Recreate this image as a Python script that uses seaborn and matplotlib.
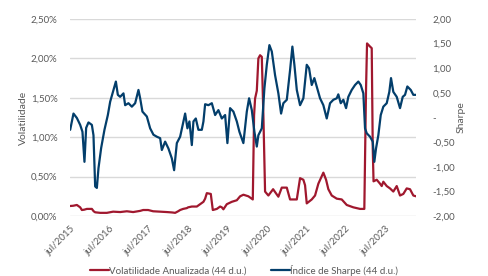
import numpy as np
import pandas as pd
import matplotlib
matplotlib.use("Agg")
import matplotlib.pyplot as plt
from matplotlib.ticker import FixedLocator, FuncFormatter
import seaborn as sns

# ---- data (decimal years) ----
sharpe_t = [2015.500, 2015.584, 2015.670, 2015.754, 2015.812, 2015.863, 2015.906, 2015.965,
            2016.051, 2016.092, 2016.135, 2016.178, 2016.219, 2016.287, 2016.371, 2016.457,
            2016.516, 2016.600, 2016.661, 2016.711, 2016.770, 2016.854, 2016.897, 2016.981,
            2017.067, 2017.151, 2017.235, 2017.278, 2017.336, 2017.448, 2017.532, 2017.616,
            2017.702, 2017.786, 2017.829, 2017.913, 2017.997, 2018.083, 2018.141, 2018.210,
            2018.294, 2018.378, 2018.421, 2018.479, 2018.530, 2018.591, 2018.632, 2018.692,
            2018.758, 2018.845, 2018.886, 2018.929, 2019.012, 2019.099, 2019.183, 2019.266,
            2019.353, 2019.437, 2019.495, 2019.563, 2019.647, 2019.734, 2019.800, 2019.901,
            2019.988, 2020.046, 2020.115, 2020.181, 2020.242, 2020.282, 2020.369, 2020.435,
            2020.496, 2020.562, 2020.623, 2020.706, 2020.790, 2020.859, 2020.917, 2021.004,
            2021.087, 2021.146, 2021.197, 2021.258, 2021.341, 2021.425, 2021.511, 2021.570,
            2021.638, 2021.704, 2021.765, 2021.849, 2021.933, 2022.019, 2022.103, 2022.187,
            2022.273, 2022.313, 2022.375, 2022.441, 2022.510, 2022.568, 2022.654, 2022.738,
            2022.822, 2022.883, 2022.949, 2022.992, 2023.035, 2023.119, 2023.188, 2023.228,
            2023.271, 2023.330, 2023.391, 2023.457, 2023.543, 2023.609, 2023.652, 2023.711,
            2023.797, 2023.881, 2023.950, 2024.008, 2024.067, 2024.153, 2024.219, 2024.287]
sharpe_v = [-0.25, 0.08, -0.01, -0.15, -0.29, -0.90, -0.21, -0.10,
            -0.15, -0.36, -1.40, -1.43, -1.03, -0.62, -0.25, 0.05,
            0.32, 0.56, 0.73, 0.46, 0.42, 0.49, 0.25, 0.29,
            0.22, 0.29, 0.56, 0.39, 0.12, 0.02, -0.22, -0.35,
            -0.39, -0.42, -0.66, -0.49, -0.63, -0.83, -1.07, -0.52,
            -0.39, -0.08, 0.08, -0.22, -0.08, -0.56, -0.08, -0.02,
            -0.25, -0.25, -0.08, 0.27, 0.25, 0.29, 0.05, 0.15,
            -0.02, 0.05, -0.52, 0.19, 0.12, -0.08, -0.29, -0.52,
            0.12, 0.39, 0.15, -0.29, -0.59, -0.36, -0.22, 0.59,
            1.07, 1.47, 1.34, 0.86, 0.49, 0.08, 0.29, 0.36,
            0.96, 1.44, 1.07, 0.56, 0.25, 0.39, 1.07, 1.00,
            0.66, 0.80, 0.63, 0.39, 0.25, -0.02, 0.29, 0.36,
            0.39, 0.47, 0.29, 0.36, 0.19, 0.42, 0.56, 0.66,
            0.73, 0.66, 0.49, -0.22, -0.32, -0.39, -0.49, -0.90,
            -0.63, -0.36, 0.05, 0.22, 0.29, 0.52, 0.80, 0.52,
            0.42, 0.19, 0.42, 0.46, 0.63, 0.56, 0.46, 0.46]

vol_t = [2015.500, 2015.576, 2015.670, 2015.754, 2015.797, 2015.856, 2015.924, 2016.051,
         2016.097, 2016.135, 2016.262, 2016.432, 2016.592, 2016.770, 2016.940, 2017.100,
         2017.278, 2017.354, 2017.481, 2017.608, 2017.786, 2017.956, 2018.090, 2018.167,
         2018.243, 2018.294, 2018.370, 2018.464, 2018.497, 2018.591, 2018.718, 2018.802,
         2018.886, 2018.929, 2018.972, 2019.073, 2019.124, 2019.226, 2019.310, 2019.353,
         2019.393, 2019.480, 2019.607, 2019.734, 2019.818, 2019.902, 2020.028, 2020.140,
         2020.173, 2020.198, 2020.242, 2020.282, 2020.325, 2020.369, 2020.409, 2020.452,
         2020.536, 2020.656, 2020.790, 2020.876, 2021.004, 2021.087, 2021.258, 2021.341,
         2021.425, 2021.468, 2021.511, 2021.638, 2021.722, 2021.806, 2021.933, 2022.002,
         2022.060, 2022.146, 2022.273, 2022.400, 2022.527, 2022.695, 2022.865, 2022.974,
         2023.017, 2023.043, 2023.119, 2023.162, 2023.188, 2023.208, 2023.289, 2023.373,
         2023.416, 2023.457, 2023.543, 2023.627, 2023.711, 2023.797, 2023.881, 2023.965,
         2024.051, 2024.135, 2024.219, 2024.287]
vol_v = [0.127, 0.13, 0.14, 0.11, 0.076, 0.08, 0.09, 0.09,
         0.06, 0.047, 0.04, 0.04, 0.055, 0.05, 0.06, 0.05,
         0.065, 0.076, 0.076, 0.06, 0.055, 0.05, 0.045, 0.04,
         0.06, 0.076, 0.09, 0.10, 0.11, 0.12, 0.12, 0.15,
         0.18, 0.22, 0.29, 0.28, 0.076, 0.09, 0.12, 0.11,
         0.085, 0.15, 0.18, 0.20, 0.25, 0.27, 0.25, 0.21,
         1.28, 1.49, 1.59, 2.00, 2.04, 2.02, 1.28, 0.31,
         0.26, 0.34, 0.245, 0.36, 0.36, 0.21, 0.21, 0.48,
         0.46, 0.39, 0.16, 0.21, 0.26, 0.41, 0.55, 0.46,
         0.34, 0.26, 0.22, 0.21, 0.14, 0.11, 0.09, 0.09,
         1.60, 2.19, 2.15, 2.13, 0.86, 0.44, 0.46, 0.41,
         0.38, 0.435, 0.38, 0.35, 0.31, 0.38, 0.26, 0.28,
         0.35, 0.34, 0.26, 0.25]

tick_years = [2015, 2016, 2017, 2018, 2019, 2020, 2021, 2022, 2023]
vol_label = "Volatilidade Anualizada (44 d.u.)"
sharpe_label = "Índice de Sharpe (44 d.u.)"

RED = "#A0182E"
BLUE = "#033E6B"
GRID = "#D9D9D9"
TXT = "#595959"


def to_dt(years):
    years = np.asarray(years, dtype=float)
    base = pd.Timestamp("2015-01-01")
    return base + pd.to_timedelta((years - 2015.0) * 365.25, unit="D")


df_vol = pd.DataFrame({"date": to_dt(vol_t), "vol": vol_v})
df_sh = pd.DataFrame({"date": to_dt(sharpe_t), "sharpe": sharpe_v})

sns.set_style("white")
plt.rcParams["font.family"] = ["Lato", "DejaVu Sans"]

fig = plt.figure(figsize=(4.88, 2.76), dpi=100)
ax = fig.add_axes([70 / 488, 1 - 216 / 276, (416 - 70) / 488, (216 - 19) / 276])
ax2 = ax.twinx()

sns.lineplot(data=df_vol, x="date", y="vol", ax=ax, color=RED, lw=1.6, label=vol_label, legend=False)
sns.lineplot(data=df_sh, x="date", y="sharpe", ax=ax2, color=BLUE, lw=1.6, label=sharpe_label, legend=False)

ax.set_ylim(0, 2.5)
ax2.set_ylim(-2, 2)
ax.set_xlim(df_vol["date"].min(), df_vol["date"].max())

ax.yaxis.set_major_locator(FixedLocator([0, 0.5, 1.0, 1.5, 2.0, 2.5]))
ax.yaxis.set_major_formatter(FuncFormatter(lambda v, p: f"{v:.2f}%".replace(".", ",")))
ax2.yaxis.set_major_locator(FixedLocator(np.arange(-2, 2.01, 0.5)))


def sh_fmt(v, p):
    if abs(v) < 1e-9:
        return "-"
    return f"{v:.2f}".replace(".", ",")


ax2.yaxis.set_major_formatter(FuncFormatter(sh_fmt))

ticks = [pd.Timestamp(f"{y}-07-01") for y in tick_years]
ax.set_xticks(ticks)
ax.set_xticklabels([f"jul/{y}" for y in tick_years], rotation=45, ha="right",
                   rotation_mode="anchor", fontsize=7, color=TXT)

ax.grid(axis="y", color=GRID, lw=1)
ax.set_axisbelow(True)
for a in (ax, ax2):
    for s in a.spines.values():
        s.set_visible(False)
ax.tick_params(axis="x", length=3, width=0.8, color=GRID, pad=3)
ax.tick_params(axis="y", length=0, pad=9, labelsize=7, labelcolor=TXT)
ax2.tick_params(axis="y", length=0, pad=12, labelsize=7, labelcolor=TXT)
for lbl in ax2.get_yticklabels():
    lbl.set_horizontalalignment("left")

ax.set_xlabel("")
ax.set_ylabel("Volatilidade", fontsize=7.5, color=TXT, labelpad=2)
ax2.set_ylabel("Sharpe", fontsize=7.5, color=TXT, labelpad=1)

h1, l1 = ax.get_legend_handles_labels()
h2, l2 = ax2.get_legend_handles_labels()
fig.legend(h1 + h2, l1 + l2, loc="center", bbox_to_anchor=(0.5, 1 - 270 / 276), ncol=2,
           frameon=False, fontsize=7, labelcolor=TXT, handlelength=2.0, handletextpad=0.0,
           columnspacing=2.5)

fig.savefig("out.png", dpi=100)
